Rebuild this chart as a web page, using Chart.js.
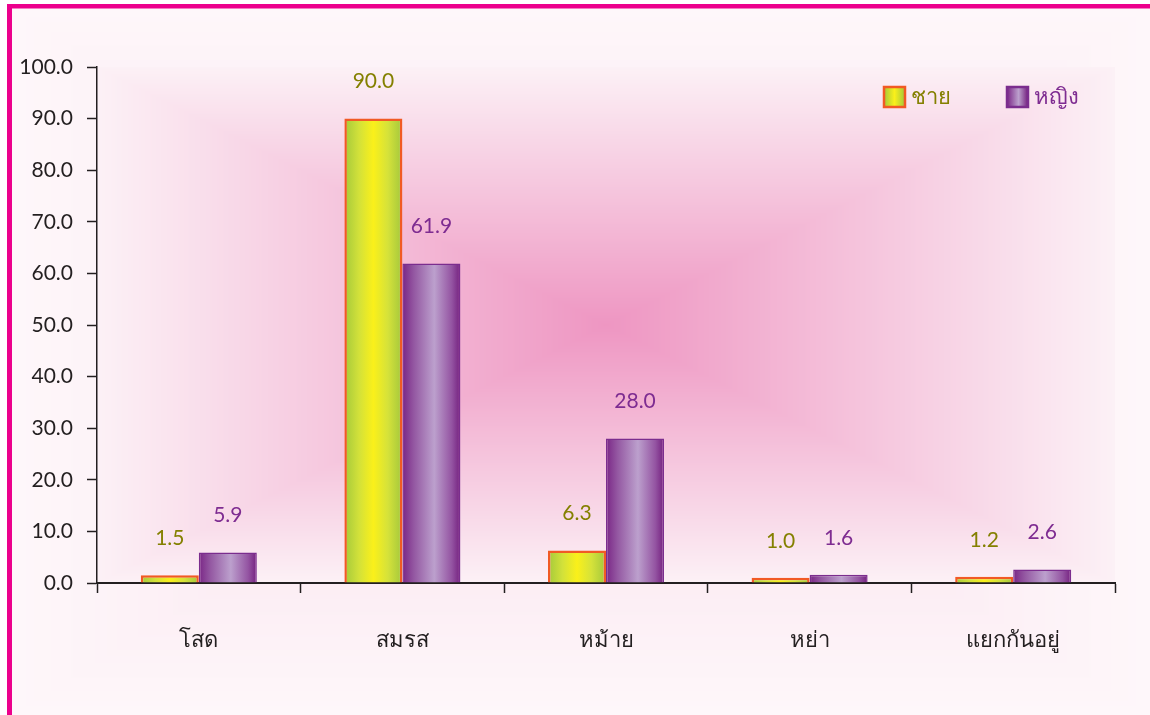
<!DOCTYPE html>
<html>
<head>
<meta charset="utf-8">
<script src="https://cdn.jsdelivr.net/npm/chart.js@4.4.0/dist/chart.umd.min.js"></script>
<style>
  html, body { margin: 0; padding: 0; background: #ffffff; }
  #wrap { position: relative; width: 1150px; height: 715px; }
  canvas { display: block; }
</style>
</head>
<body>
<div id="wrap"><canvas id="c" width="1150" height="715"></canvas></div>
<script>
// ---- data ----
const categories = ['โสด', 'สมรส', 'หม้าย', 'หย่า', 'แยกกันอยู่'];
const seriesNames = ['ชาย', 'หญิง'];
const maleValues = [1.5, 90.0, 6.3, 1.0, 1.2];
const femaleValues = [5.9, 61.9, 28.0, 1.6, 2.6];
const yTicks = [0, 10, 20, 30, 40, 50, 60, 70, 80, 90, 100];

const FONT = "Lato, 'Noto Sans', 'DejaVu Sans', sans-serif";
const labelColors = ['#848000', '#7E2C91'];

function hex(c) { return [parseInt(c.slice(1,3),16), parseInt(c.slice(3,5),16), parseInt(c.slice(5,7),16)]; }

// rectangular path gradient rendered per pixel
function boxGradientImage(w, h, edge, center, power) {
  const cv = document.createElement('canvas');
  cv.width = w; cv.height = h;
  const c = cv.getContext('2d');
  const img = c.createImageData(w, h);
  const e = hex(edge), m = hex(center);
  const hw = w / 2, hh = h / 2;
  for (let y = 0; y < h; y++) {
    const dy = Math.abs(y + 0.5 - hh) / hh;
    for (let x = 0; x < w; x++) {
      const dx = Math.abs(x + 0.5 - hw) / hw;
      let t = 1 - Math.max(dx, dy);
      t = Math.pow(Math.max(0, t), power);
      const i = (y * w + x) * 4;
      img.data[i] = e[0] + (m[0] - e[0]) * t;
      img.data[i+1] = e[1] + (m[1] - e[1]) * t;
      img.data[i+2] = e[2] + (m[2] - e[2]) * t;
      img.data[i+3] = 255;
    }
  }
  c.putImageData(img, 0, 0);
  return cv;
}

let frameImg = null, plotImg = null;

const bgPlugin = {
  id: 'bg',
  beforeDraw(chart) {
    const ctx = chart.ctx;
    const a = chart.chartArea;
    const pw = Math.round(a.right - a.left), ph = Math.round(a.bottom - a.top);
    if (!frameImg) frameImg = boxGradientImage(1138, 707, '#FEF7FA', '#F8DAE8', 1.1);
    if (!plotImg || plotImg.width !== pw || plotImg.height !== ph) plotImg = boxGradientImage(pw, ph, '#FCF1F6', '#EE96C2', 1.0);
    ctx.save();
    ctx.drawImage(frameImg, 12, 8);
    ctx.drawImage(plotImg, Math.round(a.left), Math.round(a.top));
    ctx.fillStyle = '#EC008C';
    ctx.fillRect(7, 4, 1143, 4.5);
    ctx.fillRect(7, 4, 5, 711);
    ctx.restore();
  },
  beforeDatasetsDraw(chart) {
    const ctx = chart.ctx;
    chart.data.datasets.forEach((ds, di) => {
      const meta = chart.getDatasetMeta(di);
      meta.data.forEach(el => {
        const l = el.x - el.width / 2, r = el.x + el.width / 2;
        const g = ctx.createLinearGradient(l, 0, r, 0);
        if (di === 0) {
          g.addColorStop(0, '#A4C93B');
          g.addColorStop(0.25, '#D2E13A');
          g.addColorStop(0.5, '#FAF01A');
          g.addColorStop(0.75, '#D5E23A');
          g.addColorStop(1, '#A2C73C');
        } else {
          g.addColorStop(0, '#7A2686');
          g.addColorStop(0.2, '#9458A2');
          g.addColorStop(0.55, '#BCA0CD');
          g.addColorStop(0.85, '#9454A2');
          g.addColorStop(1, '#74207F');
        }
        el.options = Object.assign({}, el.options, { backgroundColor: g });
      });
    });
  },
  afterDatasetsDraw(chart) {
    const ctx = chart.ctx;
    ctx.save();
    ctx.font = '21px ' + FONT;
    ctx.textAlign = 'center';
    ctx.textBaseline = 'middle';
    chart.data.datasets.forEach((ds, di) => {
      const meta = chart.getDatasetMeta(di);
      ctx.fillStyle = labelColors[di];
      meta.data.forEach((el, i) => {
        ctx.fillText(ds.data[i].toFixed(1), el.x, el.y - 37);
      });
    });
    // legend
    const items = [
      { x: 884, text: seriesNames[0], color: labelColors[0], di: 0 },
      { x: 1007, text: seriesNames[1], color: labelColors[1], di: 1 }
    ];
    items.forEach(it => {
      const bx = it.x, by = 87, bw = 21, bh = 20;
      const g = ctx.createLinearGradient(bx, 0, bx + bw, 0);
      if (it.di === 0) {
        g.addColorStop(0, '#A4C93B'); g.addColorStop(0.5, '#FAF01A'); g.addColorStop(1, '#A2C73C');
      } else {
        g.addColorStop(0, '#7A2686'); g.addColorStop(0.55, '#BCA0CD'); g.addColorStop(1, '#74207F');
      }
      ctx.fillStyle = g;
      ctx.fillRect(bx, by, bw, bh);
      ctx.lineWidth = 2.5;
      ctx.strokeStyle = it.di === 0 ? '#F15A24' : '#7B2D8E';
      ctx.strokeRect(bx, by, bw, bh);
      ctx.fillStyle = it.color;
      ctx.font = '22px ' + FONT;
      ctx.textAlign = 'left';
      ctx.fillText(it.text, bx + bw + 6, by + bh / 2);
    });
    ctx.restore();
  }
};

const chart = new Chart(document.getElementById('c'), {
  type: 'bar',
  data: {
    labels: categories,
    datasets: [
      { label: seriesNames[0], data: maleValues, backgroundColor: '#D8E33A', borderColor: '#F15A24', borderWidth: 2.5 },
      { label: seriesNames[1], data: femaleValues, backgroundColor: '#9B5BA8', borderColor: '#7B2D8E', borderWidth: 1.5 }
    ]
  },
  options: {
    responsive: false,
    animation: false,
    devicePixelRatio: 1,
    layout: { padding: { left: 0, top: 67, right: 35, bottom: 0 } },
    datasets: { bar: { categoryPercentage: 0.57, barPercentage: 1.0 } },
    plugins: { legend: { display: false }, tooltip: { enabled: false } },
    scales: {
      x: {
        afterFit(s) { s.height = 132; },
        grid: { offset: true, drawOnChartArea: false, drawTicks: true, tickLength: 10, tickColor: '#231F20', tickWidth: 1.5 },
        border: { display: true, color: '#231F20', width: 2 },
        ticks: { color: '#231F20', font: { size: 22, family: FONT }, padding: 34 }
      },
      y: {
        min: 0, max: 100,
        afterFit(s) { s.width = 97; },
        afterBuildTicks(s) { s.ticks = yTicks.map(v => ({ value: v })); },
        grid: { drawOnChartArea: false, drawTicks: true, tickLength: 10, tickColor: '#231F20', tickWidth: 1.5 },
        border: { display: true, color: '#231F20', width: 1.5 },
        ticks: { color: '#231F20', font: { size: 21, family: FONT }, padding: 14,
                 callback: v => Number(v).toFixed(1) }
      }
    }
  },
  plugins: [bgPlugin]
});
</script>
</body>
</html>
